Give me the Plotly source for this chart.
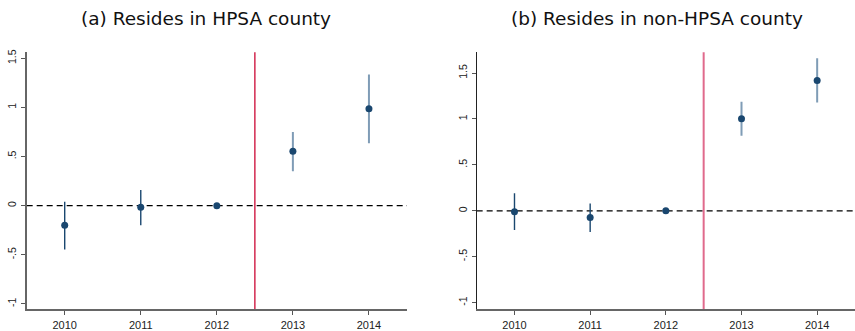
import plotly.graph_objects as go

years = [2010, 2011, 2012, 2013, 2014]
tick_labels = ["2010", "2011", "2012", "2013", "2014"]

# Panel (a): Resides in HPSA county
a_coef = [-0.20, -0.017, 0.0, 0.553, 0.986]
a_lo = [-0.445, -0.20, 0.0, 0.35, 0.635]
a_hi = [0.04, 0.16, 0.0, 0.75, 1.334]

# Panel (b): Resides in non-HPSA county
b_coef = [-0.01, -0.074, 0.0, 1.003, 1.419]
b_lo = [-0.21, -0.23, 0.0, 0.817, 1.18]
b_hi = [0.19, 0.08, 0.0, 1.186, 1.66]

ytick_vals = [-1, -0.5, 0, 0.5, 1, 1.5]
ytick_text = ["-1", "-.5", "0", ".5", "1", "1.5"]

event_x = 2012.5
titles = ["(a) Resides in HPSA county", "(b) Resides in non-HPSA county"]

NAVY = "#1a476f"
LIGHT = "#7f9cb6"
FONT = "Liberation Sans"
TFONT = "DejaVu Sans"

fig = go.Figure()

panels = [
    (a_coef, a_lo, a_hi, "x", "y", "#d2294f", 1.5),
    (b_coef, b_lo, b_hi, "x2", "y2", "#e06a8c", 2.0),
]

for coef, lo, hi, xa, ya, red, rw in panels:
    for idx, col, th in [([0, 1, 2], NAVY, 1.4), ([3, 4], LIGHT, 2.0)]:
        xs = [years[i] for i in idx]
        ys = [coef[i] for i in idx]
        up = [hi[i] - coef[i] for i in idx]
        dn = [coef[i] - lo[i] for i in idx]
        fig.add_trace(go.Scatter(
            x=xs, y=ys, mode="markers", xaxis=xa, yaxis=ya,
            marker=dict(size=7, color=NAVY),
            error_y=dict(type="data", symmetric=False, array=up, arrayminus=dn,
                         width=0, thickness=th, color=col),
            showlegend=False, hoverinfo="skip",
        ))
    fig.add_shape(type="line", xref=f"{xa} domain", yref=ya, x0=0, x1=1, y0=0, y1=0,
                  line=dict(color="black", width=1.2, dash="6px,4px"), layer="below")
    fig.add_shape(type="line", xref=xa, yref=f"{ya} domain", x0=event_x, x1=event_x, y0=0, y1=1,
                  line=dict(color=red, width=rw), layer="below")

xcommon = dict(range=[2009.5, 2014.5], tickmode="array", tickvals=years, ticktext=tick_labels,
               ticks="outside", ticklen=4, tickcolor="#555", showgrid=False, zeroline=False,
               showline=True, linecolor="#666", linewidth=2,
               tickfont=dict(family=FONT, size=11, color="#222"))
ycommon = dict(tickmode="array", tickvals=ytick_vals, ticktext=ytick_text, tickangle=-90,
               ticks="outside", ticklen=4, tickcolor="#555", showgrid=False, zeroline=False,
               showline=True, tickfont=dict(family=FONT, size=10.5, color="#222"))

fig.update_layout(
    width=855, height=331,
    margin=dict(l=0, r=0, t=0, b=0),
    paper_bgcolor="white", plot_bgcolor="white",
    xaxis=dict(domain=[0.0312, 0.476], anchor="y", **xcommon),
    yaxis=dict(domain=[0.0483, 0.8468], anchor="x", range=[-1.056, 1.56],
               linecolor="#666", linewidth=2, **ycommon),
    xaxis2=dict(domain=[0.5575, 1.0], anchor="y2", **xcommon),
    yaxis2=dict(domain=[0.0483, 0.8468], anchor="x2", range=[-1.074, 1.725],
                linecolor="#222", linewidth=1, **ycommon),
    annotations=[
        dict(text=titles[0], x=206 / 855, y=1 - 16 / 331, xref="paper", yref="paper",
             showarrow=False, font=dict(family=TFONT, size=18.5, color="#111"),
             xanchor="center", yanchor="middle"),
        dict(text=titles[1], x=657 / 855, y=1 - 16 / 331, xref="paper", yref="paper",
             showarrow=False, font=dict(family=TFONT, size=18.5, color="#111"),
             xanchor="center", yanchor="middle"),
    ],
)

fig.write_html("out.html")
